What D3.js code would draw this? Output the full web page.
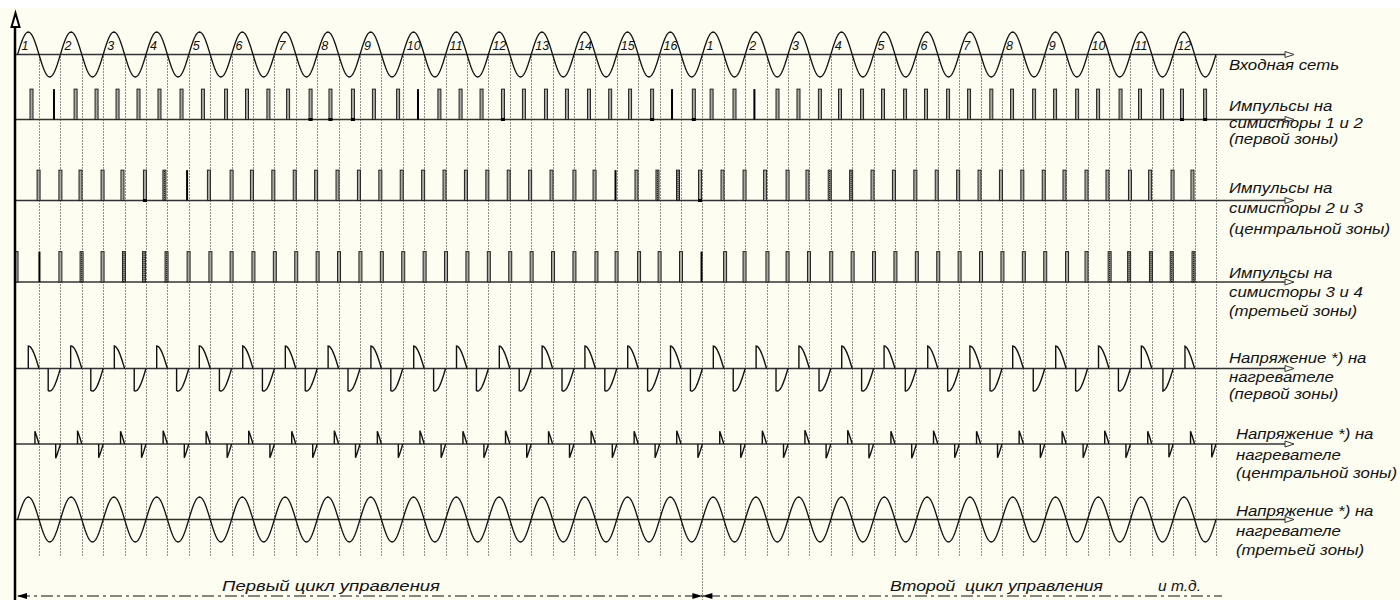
<!DOCTYPE html>
<html><head><meta charset="utf-8">
<script src="https://cdnjs.cloudflare.com/ajax/libs/d3/7.8.5/d3.min.js"></script>
<style>
body{margin:0;background:#fff;}
svg{display:block;}
text{font-family:"Liberation Sans",Arial,sans-serif;font-style:italic;fill:#111;}
</style>
</head><body>
<svg id="chart" width="1400" height="600"></svg>
<script>
// ---------------- DATA ----------------
const mainsFreqHz = 50;            // input mains frequency
const totalMs = 560;               // 28 periods shown
const periodLabels = ["1","2","3","4","5","6","7","8","9","10","11","12","13","14","15","16",
                      "1","2","3","4","5","6","7","8","9","10","11","12"];
const cycleBoundaryMs = 320;       // end of first control cycle

// triac pulses, zone 1 (ms)
const pulsesZone1 = [6.5,17.0,27.1,36.9,46.7,56.5,66.3,76.6,86.6,97.4,107.2,117.2,126.4,136.9,146.2,156.7,166.5,177.8,187.1,197.1,
  207.0,216.8,226.8,236.6,246.9,256.7,267.0,276.9,286.2,296.5,305.8,316.0,324.3,335.0,344.3,355.1,364.9,374.9,384.3,394.6,
  404.4,414.7,424.5,434.8,444.6,455.0,464.7,475.0,484.8,495.1,504.9,515.4,524.5,534.8,544.1,554.9];
const kindsZone1 = "oboooooooooooffforbooofoooooofbfoobooooooooooooooooooofff";
// triac pulses, central zone (ms)
const pulsesZone2 = [9.8,20.0,29.4,39.7,49.0,59.5,68.6,79.2,89.4,100.0,
  109.5,119.5,129.5,139.5,149.5,159.5,169.5,179.5,189.5,199.5,209.5,219.5,229.5,239.5,249.5,
  260.2,269.6,279.4,289.2,299.0,308.6,318.9,329.4,339.7,349.3,359.8,369.1,
  379.5,389.5,399.5,409.5,419.5,429.5,439.5,449.5,459.5,469.5,479.5,
  489.2,499.5,509.3,519.8,529.2,539.7,549.0];
const kindsZone2 = "ooooofdbooooooooooooooooooobodd" + "foooooddooooooooooooooooo";
// triac pulses, third zone (ms)
const pulsesZone3 = [-0.5,10.2,20.0,29.9,39.7,49.7,59.1,69.6,79.9,90.1,100.0,
  110.2,120.2,130.2,140.2,150.2,160.2,170.2,180.2,190.2,200.2,210.2,220.2,230.2,240.2,250.2,
  260.2,270.5,279.9,290.4,300.0,310.0,319.6,330.6,339.7,350.4,359.8,369.8,
  380.2,390.2,400.2,410.2,420.2,430.2,440.2,450.2,460.2,470.2,480.2,
  490.4,499.5,510.3,519.4,529.6,539.3,549.5];
const kindsZone3 = "obododddooo" + "ooooooooooooooo" + "oooooobooooo" + "ooooooooooo" + "ooddddd";
// firing instants of heater voltage, zone 1 (ms)
const fireZone1 = [5.0,14.3,24.8,34.2,45.2,54.5,65.0,74.3,84.9,94.3,105.2,
  114.4,125.1,134.4,145.1,154.4,165.1,174.4,185.1,194.4,205.1,214.4,225.1,234.4,245.1,254.4,265.1,274.4,285.1,294.4,305.1,314.4,325.1,334.4,345.1,354.4,365.1,
  374.5,385.1,394.4,404.9,414.8,425.3,434.6,445.0,454.4,465.0,474.6,
  485.1,494.4,505.1,514.4,525.1,535.2,545.5];
// firing instants of heater voltage, central zone (ms)
const fireZone2 = [8.1,17.8,28.0,37.9,48.1,57.9,68.0,77.9,88.1,97.9,
  108.0,117.9,128.1,137.9,148.0,157.9,168.1,177.9,188.0,197.9,208.1,217.9,228.0,237.9,248.1,257.9,268.0,277.9,288.1,297.9,308.0,317.9,328.1,337.9,348.0,357.9,
  367.9,377.8,387.9,397.8,408.1,417.8,428.0,437.9,448.1,457.9,468.0,477.9,
  488.1,497.9,508.0,517.9,528.1,538.0,548.1,558.0];
const pulseLevel = 1.35;   // pulse amplitude relative to mains amplitude

const rowLabels = [
  ["Входная сеть"],
  ["Импульсы на","симисторы 1 и 2","(первой зоны)"],
  ["Импульсы на","симисторы 2 и 3","(центральной зоны)"],
  ["Импульсы на","симисторы 3 и 4","(третьей зоны)"],
  ["Напряжение *) на","нагревателе","(первой зоны)"],
  ["Напряжение *) на","нагревателе","(центральной зоны)"],
  ["Напряжение *) на","нагревателе","(третьей зоны)"]
];
const cycleLabels = ["Первый цикл управления","Второй\u00a0 цикл управления","и т.д."];

// ---------------- LAYOUT ----------------
const W = 1400, H = 600;
const bg = "#fdfdf1";
const rowAxisY = [54.5,119.5,200.5,282,368.5,444,519.5];
const amp = 22.5;
const labelX = [1229,1229,1229,1229,1229,1236,1236];
const labelDY = [[15.5],[-8.5,8,24],[-8,12.5,33],[-4.5,15,34],[-5.5,13.5,30.5],[-5,16,34],[-3.5,16.5,35.5]];
const labelStretch = 1.2;

const svg = d3.select("#chart");
svg.append("rect").attr("width",W).attr("height",H).attr("fill",bg);
svg.append("rect").attr("width",W).attr("height",8).attr("fill","#ffffff");

const x = d3.scaleLinear().domain([0,totalMs]).range([17.6,1216]);
const yRow = rowAxisY.map(y0 => d3.scaleLinear().domain([-1,1]).range([y0+amp,y0-amp]));
const omega = 2*Math.PI*mainsFreqHz/1000;
const halfMs = 1000/mainsFreqHz/2;

// dotted zero-crossing lines
const crossings = d3.range(1, totalMs/halfMs + 1).map(k => k*halfMs);
svg.append("g").selectAll("line").data(crossings).join("line")
  .attr("x1",d=>Math.round(x(d))+0.5).attr("x2",d=>Math.round(x(d))+0.5)
  .attr("y1",rowAxisY[0]+2)
  .attr("y2",d=>d===cycleBoundaryMs?600:557)
  .attr("stroke","#222").attr("stroke-width",1).attr("stroke-dasharray","1,2");

// horizontal axes with open arrows
const axG = svg.append("g");
rowAxisY.forEach(y0=>{
  axG.append("line").attr("x1",15).attr("x2",1286).attr("y1",y0).attr("y2",y0)
    .attr("stroke","#333").attr("stroke-width",1.5);
  axG.append("path").attr("d",`M1285,${y0-3}L1294,${y0}L1285,${y0+3}Z`)
    .attr("fill",bg).attr("stroke","#333").attr("stroke-width",1);
});

const line = d3.line().x(d=>x(d[0])).y(d=>d[1]);
const wave = t => Math.sin(omega*t);
const tSamples = d3.range(0, totalMs+0.001, 0.5);

// mains and third zone heater (full sine)
[0,6].forEach(r=>{
  svg.append("path").attr("d", line(tSamples.map(t=>[t,yRow[r](wave(t))])))
    .attr("fill","none").attr("stroke","#111").attr("stroke-width",1.3);
});

// phase-cut heater voltages
function cutPath(tf, r){
  const k = Math.floor(tf/halfMs);
  const tEnd = (k+1)*halfMs;
  const pts = [[tf, yRow[r](0)]];
  for(let t=tf; t<tEnd; t+=0.25) pts.push([t, yRow[r](wave(t))]);
  pts.push([tEnd, yRow[r](0)]);
  return line(pts);
}
[[fireZone1,4],[fireZone2,5]].forEach(([arr,r])=>{
  svg.append("g").selectAll("path").data(arr).join("path")
    .attr("d",d=>cutPath(d,r)).attr("fill","none").attr("stroke","#111").attr("stroke-width",1.4);
});

// pulses
function drawPulses(times, kinds, r){
  const g = svg.append("g");
  const yTop = yRow[r](pulseLevel), yBot = yRow[r](0);
  times.forEach((t,i)=>{
    const k = kinds[i] || "o";
    const cx = x(t);
    if(k==="b"){
      g.append("rect").attr("x",cx-1).attr("y",yTop).attr("width",2).attr("height",yBot-yTop).attr("fill","#000");
    } else {
      g.append("rect").attr("x",cx-1.5).attr("y",yTop).attr("width",3).attr("height",yBot-yTop)
        .attr("fill","#a8a8a0").attr("stroke","#222").attr("stroke-width",1);
      if(k==="d"){
        g.append("line").attr("x1",cx).attr("x2",cx).attr("y1",yTop+1).attr("y2",yBot)
          .attr("stroke","#000").attr("stroke-width",1.2).attr("stroke-dasharray","1,1");
      }
      if(k==="f"){
        g.append("rect").attr("x",cx-2).attr("y",yBot-1.5).attr("width",4).attr("height",3).attr("fill","#000");
      }
    }
  });
}
drawPulses(pulsesZone1, kindsZone1, 1);
drawPulses(pulsesZone2, kindsZone2, 2);
drawPulses(pulsesZone3, kindsZone3, 3);

// vertical axis
svg.append("line").attr("x1",15).attr("x2",15).attr("y1",26).attr("y2",600)
  .attr("stroke","#000").attr("stroke-width",2.5);
svg.append("path").attr("d","M15.5,13L19.5,27L11.5,27Z").attr("fill",bg).attr("stroke","#000").attr("stroke-width",2);

// period numbers
svg.append("g").selectAll("text").data(periodLabels).join("text")
  .attr("x",(d,i)=>x(i*2*halfMs)+4).attr("y",50)
  .attr("font-size",12.5).text(d=>d);

// row labels (uniformly widened italic text, like the original)
rowLabels.forEach((lines,r)=>{
  lines.forEach((s,j)=>{
    svg.append("text")
      .attr("transform",`translate(${labelX[r]},${rowAxisY[r]+labelDY[r][j]}) scale(${labelStretch},1)`)
      .attr("font-size",14).text(s);
  });
});

// bottom control-cycle line
const yB = 596;
svg.append("line").attr("x1",18).attr("x2",1222).attr("y1",yB).attr("y2",yB)
  .attr("stroke","#111").attr("stroke-width",1.2).attr("stroke-dasharray","12,4,3,4");
const xb = x(cycleBoundaryMs);
svg.append("path").attr("d",`M17,${yB}L27,${yB-3}L27,${yB+3}Z`).attr("fill","#000");
svg.append("path").attr("d",`M${xb},${yB}L${xb-10},${yB-3}L${xb-10},${yB+3}Z`).attr("fill","#000");
svg.append("path").attr("d",`M${xb},${yB}L${xb+10},${yB-3}L${xb+10},${yB+3}Z`).attr("fill","#000");
const cycleX = [222,890,1158], cycleW = [218,213,43];
cycleLabels.forEach((s,i)=>{
  svg.append("text").attr("x",cycleX[i]).attr("y",591).attr("font-size",14)
    .attr("textLength",cycleW[i]).attr("lengthAdjust","spacingAndGlyphs").text(s);
});
</script>
</body></html>
